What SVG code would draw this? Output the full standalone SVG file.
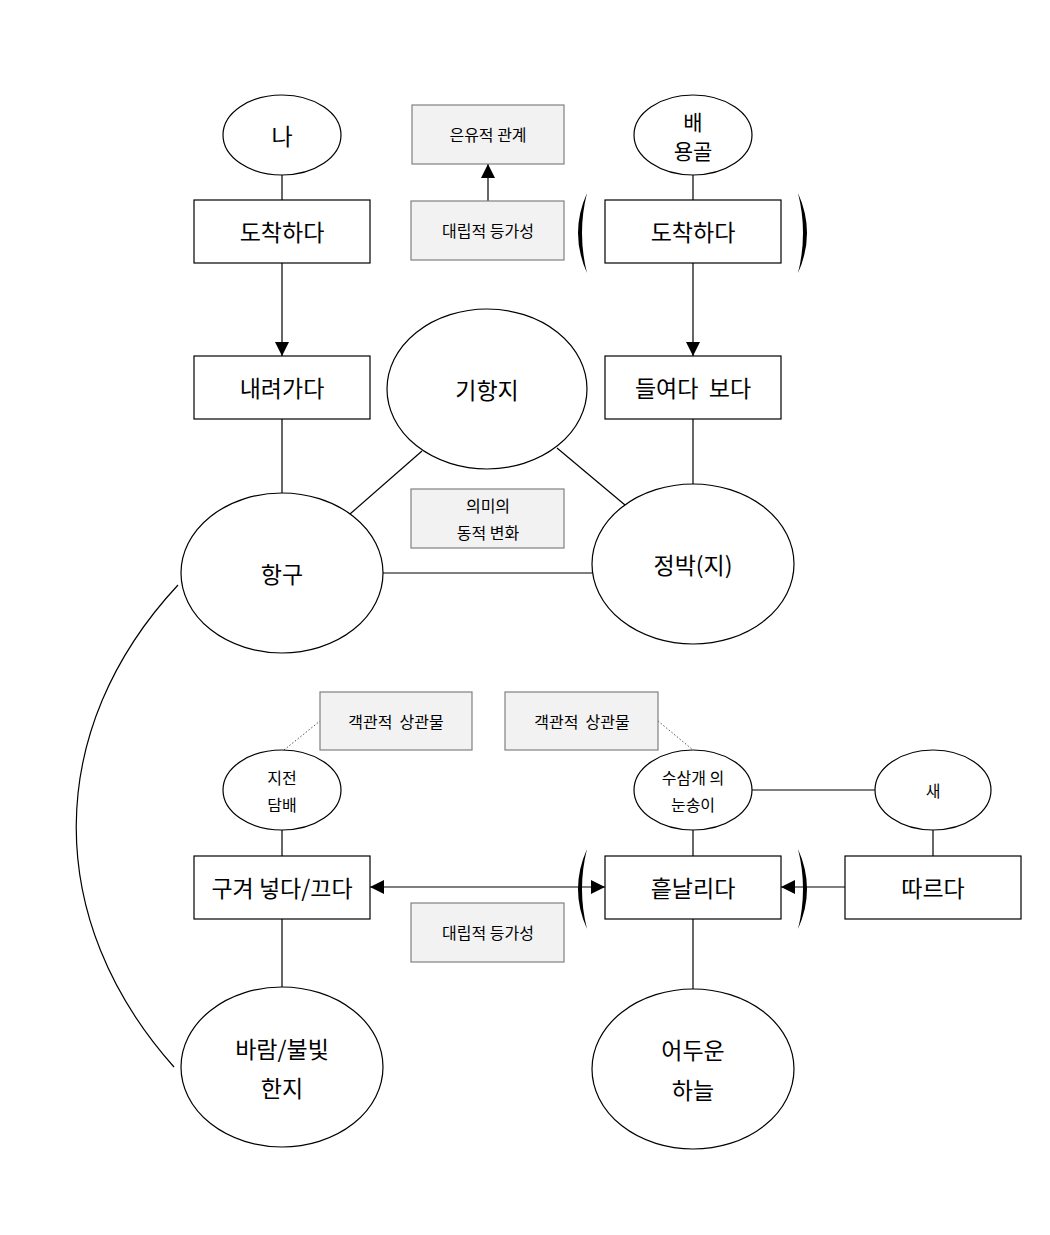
<svg xmlns="http://www.w3.org/2000/svg" width="1050" height="1235" viewBox="0 0 1050 1235">
<style>
.n{fill:#fff;stroke:#000;stroke-width:1.2}
.g{fill:#f2f2f2;stroke:#808080;stroke-width:1.2}
.l{stroke:#000;stroke-width:1.2;fill:none}
.d{stroke:#555;stroke-width:1;fill:none;stroke-dasharray:1.5 2}
.p{fill:#000;stroke:none}
text{font-family:"Noto Sans CJK KR","Noto Sans",sans-serif;fill:#000;text-anchor:middle;dominant-baseline:central}
.b{font-size:23px}
.s{font-size:16px}
.k{font-size:21px}
</style>
<defs>
<marker id="ah" viewBox="0 0 14 14" refX="14" refY="7" markerWidth="14" markerHeight="14" markerUnits="userSpaceOnUse" orient="auto-start-reverse">
<path d="M0,0 L14,7 L0,14 Z" fill="#000"/>
</marker>
</defs>
<rect width="1050" height="1235" fill="#fff"/>
<g id="connectors">
<line class="l" x1="282" y1="175" x2="282" y2="200"/>
<line class="l" x1="282" y1="263" x2="282" y2="356" marker-end="url(#ah)"/>
<line class="l" x1="282" y1="419" x2="282" y2="494"/>
<line class="l" x1="693" y1="175" x2="693" y2="200"/>
<line class="l" x1="693" y1="263" x2="693" y2="356" marker-end="url(#ah)"/>
<line class="l" x1="693" y1="419" x2="693" y2="484"/>
<line class="l" x1="488" y1="201" x2="488" y2="164" marker-end="url(#ah)"/>
<line class="l" x1="350" y1="514" x2="422" y2="451"/>
<line class="l" x1="557" y1="448" x2="625" y2="505"/>
<line class="l" x1="383" y1="573" x2="592" y2="573"/>
<path class="l" d="M178,585 C43,730 43,920 174,1067"/>
<line class="d" x1="284" y1="750" x2="320" y2="721"/>
<line class="d" x1="658" y1="721" x2="693" y2="750"/>
<line class="l" x1="752" y1="790" x2="875" y2="790"/>
<line class="l" x1="933" y1="830" x2="933" y2="856"/>
<line class="l" x1="282" y1="830" x2="282" y2="856"/>
<line class="l" x1="282" y1="919" x2="282" y2="988"/>
<line class="l" x1="693" y1="830" x2="693" y2="856"/>
<line class="l" x1="693" y1="919" x2="693" y2="990"/>
<line class="l" x1="370" y1="887" x2="605" y2="887" marker-start="url(#ah)" marker-end="url(#ah)"/>
<line class="l" x1="845" y1="887" x2="781" y2="887" marker-end="url(#ah)"/>
</g>
<g id="parens">
<path class="p" d="M587,193 Q569,233 587,273 Q577,233 587,193 Z"/>
<path class="p" d="M798,193 Q816,233 798,273 Q808,233 798,193 Z"/>
<path class="p" d="M587,849 Q569,889 587,929 Q577,889 587,849 Z"/>
<path class="p" d="M798,849 Q816,889 798,929 Q808,889 798,849 Z"/>
</g>
<g id="n-na"><ellipse class="n" cx="282" cy="135" rx="59" ry="40"/><text class="b" x="282" y="135">나</text></g>
<g id="n-arrive1"><rect class="n" x="194" y="200" width="176" height="63"/><text class="b" x="282" y="231">도착하다</text></g>
<g id="n-down"><rect class="n" x="194" y="356" width="176" height="63"/><text class="b" x="282" y="387">내려가다</text></g>
<g id="n-port"><ellipse class="n" cx="282" cy="573" rx="101" ry="80"/><text class="b" x="282" y="573">항구</text></g>
<g id="n-dest"><ellipse class="n" cx="487" cy="389" rx="100" ry="80"/><text class="b" x="487" y="389">기항지</text></g>
<g id="n-anchor"><ellipse class="n" cx="693" cy="564" rx="101" ry="80"/><text class="b" x="693" y="564">정박(지)</text></g>
<g id="n-keel"><ellipse class="n" cx="693" cy="135" rx="59" ry="40"/><text class="k" x="693" y="121">배</text><text class="k" x="693" y="150">용골</text></g>
<g id="n-arrive2"><rect class="n" x="605" y="200" width="176" height="63"/><text class="b" x="693" y="231">도착하다</text></g>
<g id="n-look"><rect class="n" x="605" y="356" width="176" height="63"/><text class="b" x="693" y="387" xml:space="preserve">들여다  보다</text></g>
<g id="n-metaphor"><rect class="g" x="412" y="105" width="152" height="59"/><text class="s" x="488" y="134">은유적 관계</text></g>
<g id="n-equiv1"><rect class="g" x="411" y="201" width="153" height="59"/><text class="s" x="488" y="230">대립적 등가성</text></g>
<g id="n-meaning"><rect class="g" x="411" y="489" width="153" height="59"/><text class="s" x="488" y="505">의미의</text><text class="s" x="488" y="532">동적 변화</text></g>
<g id="n-obj1"><rect class="g" x="320" y="692" width="152" height="58"/><text class="s" x="396" y="721" xml:space="preserve">객관적  상관물</text></g>
<g id="n-obj2"><rect class="g" x="505" y="692" width="153" height="58"/><text class="s" x="582" y="721" xml:space="preserve">객관적  상관물</text></g>
<g id="n-money"><ellipse class="n" cx="282" cy="790" rx="59" ry="40"/><text class="s" x="282" y="777">지전</text><text class="s" x="282" y="804">담배</text></g>
<g id="n-snow"><ellipse class="n" cx="693" cy="790" rx="59" ry="40"/><text class="s" x="693" y="777">수삼개 의</text><text class="s" x="693" y="804">눈송이</text></g>
<g id="n-bird"><ellipse class="n" cx="933" cy="790" rx="58" ry="40"/><text class="s" x="933" y="790">새</text></g>
<g id="n-crumple"><rect class="n" x="194" y="856" width="176" height="63"/><text class="b" x="282" y="887">구겨 넣다/끄다</text></g>
<g id="n-scatter"><rect class="n" x="605" y="856" width="176" height="63"/><text class="b" x="693" y="887">흩날리다</text></g>
<g id="n-follow"><rect class="n" x="845" y="856" width="176" height="63"/><text class="b" x="933" y="887">따르다</text></g>
<g id="n-equiv2"><rect class="g" x="411" y="903" width="153" height="59"/><text class="s" x="488" y="932">대립적 등가성</text></g>
<g id="n-wind"><ellipse class="n" cx="282" cy="1067" rx="101" ry="80"/><text class="b" x="282" y="1048">바람/불빛</text><text class="b" x="282" y="1087">한지</text></g>
<g id="n-sky"><ellipse class="n" cx="693" cy="1069" rx="101" ry="80"/><text class="b" x="693" y="1049">어두운</text><text class="b" x="693" y="1089">하늘</text></g>
</svg>
